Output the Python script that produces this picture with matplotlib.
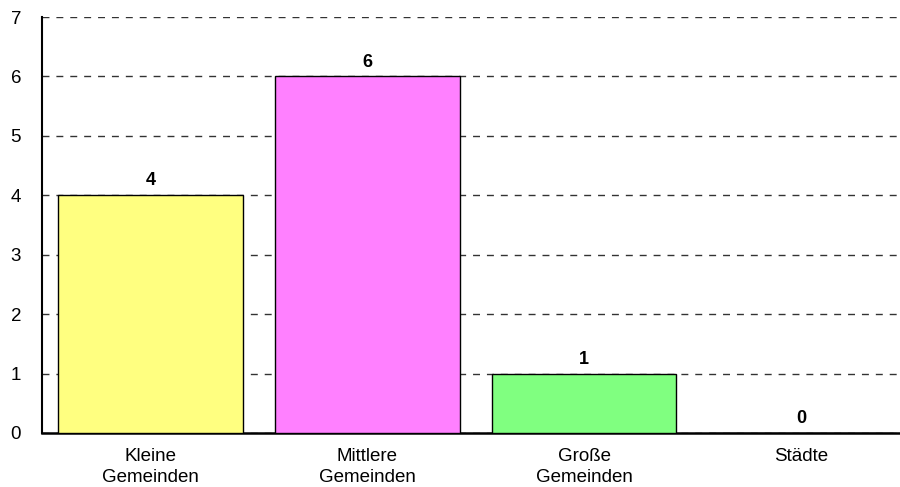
import matplotlib.pyplot as plt

categories = ["Kleine\nGemeinden", "Mittlere\nGemeinden", "Große\nGemeinden", "Städte"]
values = [4, 6, 1, 0]
colors = ["#FFFF80", "#FF80FF", "#80FF80", "#80FFFF"]

plt.rcParams['font.family'] = ['Liberation Sans', 'DejaVu Sans']

fig = plt.figure(figsize=(9, 4.87), dpi=100)
ax = fig.add_axes([0.0467, 0.111, 0.964, 0.854])

x = range(len(categories))
bars = ax.bar(x, values, width=0.85, color=colors, edgecolor="black", linewidth=1, zorder=3)

for xi, v in zip(x, values):
    ax.text(xi, v + 0.1, str(v), ha="center", va="bottom", fontsize=13, fontweight="bold")

ax.set_xlim(-0.5, 3.5)
ax.set_ylim(0, 7)
ax.set_yticks(range(0, 8))
ax.set_xticks(list(x))
ax.set_xticklabels(categories, fontsize=13.5, linespacing=1.3)
ax.tick_params(axis="y", length=0, pad=15, labelsize=13.5)
ax.tick_params(axis="x", length=0, pad=11)

ax.yaxis.grid(True, linestyle=(0, (5, 5)), color="#333333", linewidth=1, zorder=0)
ax.set_axisbelow(True)

ax.spines["right"].set_visible(False)
ax.spines["top"].set_visible(False)
ax.spines["left"].set_linewidth(1.5)
ax.spines["bottom"].set_linewidth(1.8)

fig.savefig("out.png", dpi=100)
